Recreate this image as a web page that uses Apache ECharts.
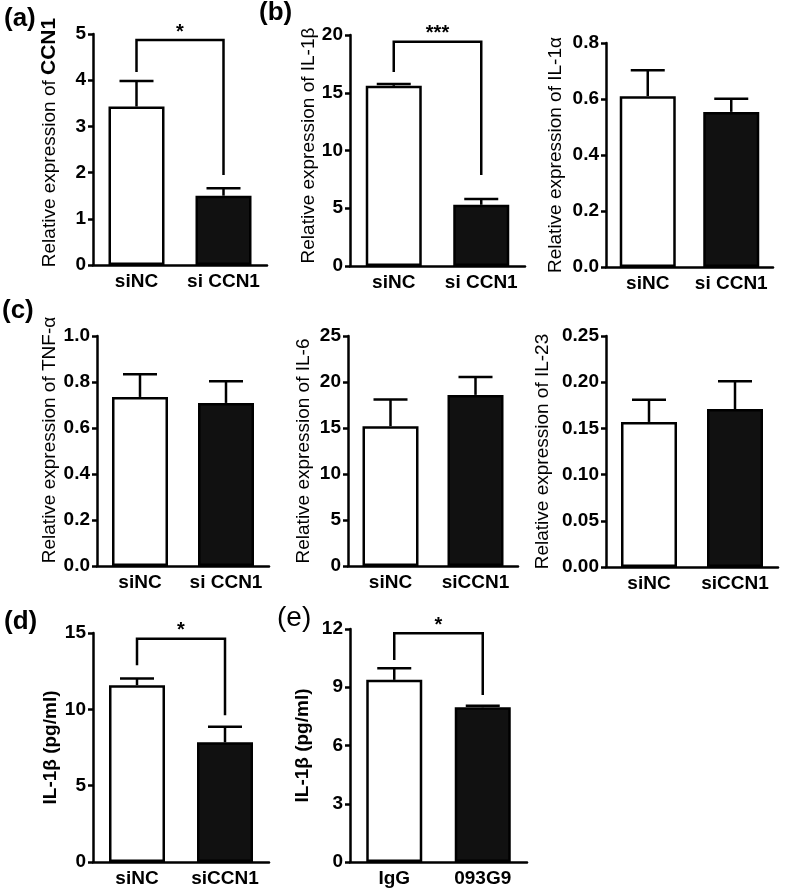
<!DOCTYPE html>
<html><head><meta charset="utf-8">
<script src="https://cdn.jsdelivr.net/npm/echarts@6/dist/echarts.min.js"></script>
<style>html,body{margin:0;padding:0;background:#fff}#c{width:787px;height:895px}</style>
</head><body><div id="c"></div>
<script>
// ---- categories ----
const catsSpaced = ['siNC', 'si CCN1'];
const catsPlain = ['siNC', 'siCCN1'];
const catsAb = ['IgG', '093G9'];

// ---- series values (mean, SEM) ----
const ccn1Mean = [3.43, 1.50];   const ccn1Sem = [0.55, 0.16];
const il1bMean = [15.6, 5.3];    const il1bSem = [0.15, 0.50];
const il1aMean = [0.61, 0.554];  const il1aSem = [0.093, 0.047];
const tnfMean  = [0.735, 0.709]; const tnfSem  = [0.099, 0.094];
const il6Mean  = [15.2, 18.6];   const il6Sem  = [2.9, 1.95];
const il23Mean = [0.157, 0.171]; const il23Sem = [0.024, 0.030];
const elisaDMean = [11.58, 7.84]; const elisaDSem = [0.44, 1.02];
const elisaEMean = [9.38, 7.97];  const elisaESem = [0.60, 0.08];

// ---- tick labels ----
const ticksCCN1 = [0, 1, 2, 3, 4, 5];
const ticksIL1B = [0, 5, 10, 15, 20];
const ticksIL1A = [0.0, 0.2, 0.4, 0.6, 0.8];
const ticksTNF  = [0.0, 0.2, 0.4, 0.6, 0.8, 1.0];
const ticksIL6  = [0, 5, 10, 15, 20, 25];
const ticksIL23 = [0.00, 0.05, 0.10, 0.15, 0.20, 0.25];
const ticksD    = [0, 5, 10, 15];
const ticksE    = [0, 3, 6, 9, 12];

// ---- significance brackets: [left leg bottom, right leg bottom, bracket top] ----
const sigCCN1 = [4.18, 1.95, 4.87];
const sigIL1B = [16.8, 7.88, 19.42];
const sigD    = [12.89, 9.62, 14.63];
const sigE    = [10.4, 8.6, 11.78];
const sigMarks = ['*', '***', '*', '*'];

const FONT = '"Liberation Sans", Arial, Helvetica, sans-serif';

const panels = [
  {cats: catsSpaced, mean: ccn1Mean, sem: ccn1Sem, ticks: ticksCCN1, dec: 0, name: '{n|Relative expression of }{b|CCN1}', gap: 33, shift: 14, sig: sigCCN1, mark: sigMarks[0],
   grid: {left: 93, top: 34, width: 174, height: 231}},
  {cats: catsSpaced, mean: il1bMean, sem: il1bSem, ticks: ticksIL1B, dec: 0, name: 'Relative expression of IL-1β', gap: 30, shift: 10, sig: sigIL1B, mark: sigMarks[1],
   grid: {left: 350, top: 35, width: 175, height: 231}},
  {cats: catsSpaced, mean: il1aMean, sem: il1aSem, ticks: ticksIL1A, dec: 1, name: 'Relative expression of IL-1α', gap: 41, shift: 0,
   grid: {left: 606, top: 43, width: 167, height: 224}},
  {cats: catsSpaced, mean: tnfMean, sem: tnfSem, ticks: ticksTNF, dec: 1, name: 'Relative expression of TNF-α', gap: 37, shift: 22,
   grid: {left: 97, top: 336, width: 172, height: 230}},
  {cats: catsPlain, mean: il6Mean, sem: il6Sem, ticks: ticksIL6, dec: 0, name: 'Relative expression of IL-6', gap: 35, shift: 0,
   grid: {left: 348, top: 336, width: 170, height: 230}},
  {cats: catsPlain, mean: il23Mean, sem: il23Sem, ticks: ticksIL23, dec: 2, name: 'Relative expression of IL-23', gap: 54, shift: 0,
   grid: {left: 606, top: 336, width: 172, height: 231}},
  {cats: catsPlain, mean: elisaDMean, sem: elisaDSem, ticks: ticksD, dec: 0, name: 'IL-1β (pg/ml)', bold: true, gap: 33, shift: 0, sig: sigD, mark: sigMarks[2],
   grid: {left: 93, top: 633, width: 176, height: 229}},
  {cats: catsAb, mean: elisaEMean, sem: elisaESem, ticks: ticksE, dec: 0, name: 'IL-1β (pg/ml)', bold: true, gap: 38, shift: 0, sig: sigE, mark: sigMarks[3],
   grid: {left: 350, top: 629, width: 177, height: 233}}
];

const grids = [], xAxes = [], yAxes = [], series = [];

function errRender(params, api) {
  const i = api.value(0), m = api.value(1), h = api.value(2);
  const p0 = api.coord([i, m]), p1 = api.coord([i, h]);
  const st = {stroke: '#000', lineWidth: 2.5};
  return {type: 'group', children: [
    {type: 'line', shape: {x1: p0[0], y1: p0[1], x2: p1[0], y2: p1[1]}, style: st},
    {type: 'line', shape: {x1: p1[0] - 17, y1: p1[1], x2: p1[0] + 17, y2: p1[1]}, style: st}
  ]};
}
function makeSigRender(mark) {
  return function (params, api) {
    const l = api.coord([0, api.value(1)]);
    const r = api.coord([1, api.value(3)]);
    const t0 = api.coord([0, api.value(4)]);
    const t1 = api.coord([1, api.value(4)]);
    return {type: 'group', children: [
      {type: 'polyline', shape: {points: [l, t0, t1, r]}, style: {stroke: '#000', lineWidth: 2.5, fill: null}},
      {type: 'text', x: (t0[0] + t1[0]) / 2, y: t0[1] - 8,
       style: {text: mark, fill: '#000', font: 'bold 20px ' + FONT, align: 'center', verticalAlign: 'middle'}}
    ]};
  };
}

panels.forEach((p, k) => {
  grids.push(Object.assign({containLabel: false}, p.grid));
  xAxes.push({
    type: 'category', gridIndex: k, data: p.cats,
    axisLine: {lineStyle: {color: '#000', width: 2.5}},
    axisTick: {alignWithLabel: true, length: 5, lineStyle: {color: '#000', width: 2.5}},
    axisLabel: {interval: 0, hideOverlap: false, color: '#000', fontSize: 19, fontWeight: 'bold', fontFamily: FONT, margin: 7}
  });
  const t = p.ticks;
  yAxes.push({
    type: 'value', gridIndex: k, min: t[0], max: t[t.length - 1], interval: t[1] - t[0],
    name: p.name, nameLocation: 'middle', nameGap: p.gap,
    nameTextStyle: {color: '#000', fontSize: 19, fontFamily: FONT, fontWeight: p.bold ? 'bold' : 'normal',
      padding: [0, 0, 0, p.shift],
      rich: {n: {fontSize: 19, fontFamily: FONT, color: '#000'}, b: {fontSize: 21, fontWeight: 'bold', fontFamily: FONT, color: '#000'}}},
    axisLine: {show: true, lineStyle: {color: '#000', width: 2.5}},
    axisTick: {show: true, length: 5, lineStyle: {color: '#000', width: 2.5}},
    splitLine: {show: false},
    axisLabel: {color: '#000', fontSize: 19, fontWeight: 'bold', fontFamily: FONT, margin: 7,
      formatter: v => Number(v).toFixed(p.dec)}
  });
  series.push({
    type: 'bar', xAxisIndex: k, yAxisIndex: k, barWidth: 56, animation: false,
    data: p.mean.map((v, i) => ({value: v, itemStyle: {color: i === 0 ? '#fff' : '#111', borderColor: '#000', borderWidth: 2.5}}))
  });
  series.push({
    type: 'custom', xAxisIndex: k, yAxisIndex: k, renderItem: errRender, animation: false, z: 5,
    encode: {x: 0, y: [1, 2]},
    data: p.mean.map((v, i) => [i, v, v + p.sem[i]])
  });
  if (p.sig) {
    series.push({
      type: 'custom', xAxisIndex: k, yAxisIndex: k, renderItem: makeSigRender(p.mark), animation: false, z: 6,
      encode: {x: [0, 2], y: [1, 3, 4]},
      data: [[0, p.sig[0], 1, p.sig[1], p.sig[2]]]
    });
  }
});

const labelStyle = (txt, x, y, bold) => ({type: 'text', left: x, top: y,
  style: {text: txt, fill: '#000', font: (bold ? 'bold ' : '') + '26px ' + FONT}});

const chart = echarts.init(document.getElementById('c'), null, {renderer: 'canvas'});
chart.setOption({
  animation: false,
  backgroundColor: '#fff',
  grid: grids, xAxis: xAxes, yAxis: yAxes, series: series,
  graphic: [
    labelStyle('(a)', 4, 6, true),
    labelStyle('(b)', 259, 0, true),
    labelStyle('(c)', 2, 298, true),
    labelStyle('(d)', 4, 609, true),
    Object.assign(labelStyle('(e)', 277, 604, false), {style: {text: '(e)', fill: '#000', font: '28px ' + FONT}})
  ]
});
</script></body></html>
